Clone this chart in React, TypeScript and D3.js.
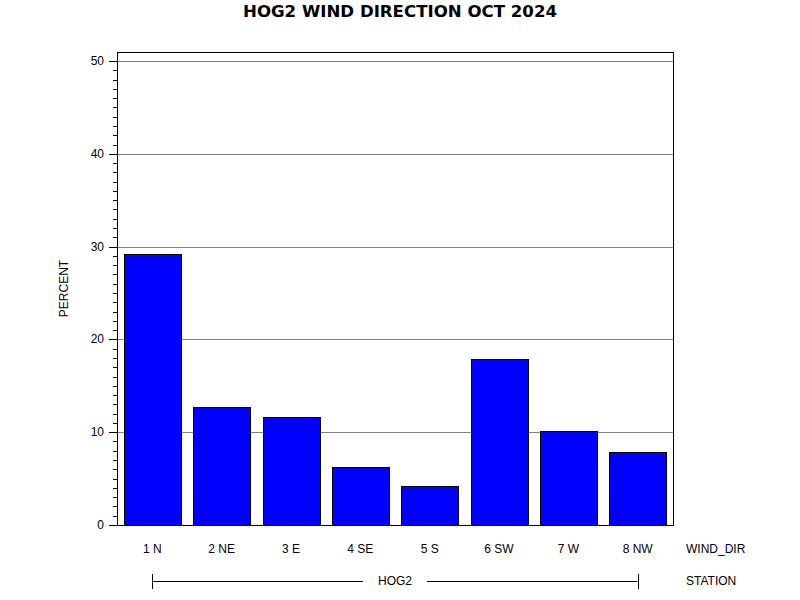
import React, { FC } from 'react';
import * as d3 from 'd3';

const windDirs: string[] = ['1 N', '2 NE', '3 E', '4 SE', '5 S', '6 SW', '7 W', '8 NW'];
const percents: number[] = [29.2, 12.7, 11.6, 6.25, 4.2, 17.9, 10.1, 7.85];
const majorTicks: number[] = [0, 10, 20, 30, 40, 50];
const stationName: string = 'HOG2';

const FONT = '"Liberation Sans", Arial, sans-serif';

/* plot frame in page pixels */
const frame = { left: 117, right: 673, top: 52, bottom: 525 };

const App: FC = () => {
  const width = 800;
  const height = 600;

  const x = d3
    .scaleBand<string>()
    .domain(windDirs)
    .range([frame.left, frame.right])
    .paddingInner(0.18)
    .paddingOuter(0.1);

  const y = d3.scaleLinear().domain([0, 50]).range([frame.bottom, 61]);

  const minorTicks: number[] = d3.range(0, 51, 1).filter((v) => v % 10 !== 0);

  const firstCenter = (x(windDirs[0]) ?? 0) + x.bandwidth() / 2;
  const lastCenter = (x(windDirs[windDirs.length - 1]) ?? 0) + x.bandwidth() / 2;
  const midStation = (firstCenter + lastCenter) / 2;
  const stationY = 581;

  return (
    <svg
      width={width}
      height={height}
      style={{ position: 'absolute', left: 0, top: 0, background: '#fff' }}
      fontFamily={FONT}
    >
      <rect x={0} y={0} width={width} height={height} fill="#fff" />
      <text
        x={400}
        y={17}
        textAnchor="middle"
        fontSize={16}
        fontWeight="bold"
        fontFamily='"DejaVu Sans", sans-serif'
        textLength={314}
        lengthAdjust="spacingAndGlyphs"
      >
        HOG2 WIND DIRECTION OCT 2024
      </text>

      {/* grid lines */}
      {majorTicks
        .filter((t) => t > 0)
        .map((t) => (
          <line
            key={'g' + t}
            x1={frame.left}
            x2={frame.right}
            y1={Math.round(y(t)) + 0.5}
            y2={Math.round(y(t)) + 0.5}
            stroke="#808080"
          />
        ))}

      {/* bars */}
      {percents.map((v, i) => (
        <rect
          key={windDirs[i]}
          x={Math.round(x(windDirs[i]) ?? 0) + 0.5}
          y={Math.round(y(v)) + 0.5}
          width={Math.round(x.bandwidth())}
          height={Math.round(y(0)) - Math.round(y(v))}
          fill="#0000ff"
          stroke="#000"
        />
      ))}

      {/* frame */}
      <rect
        x={frame.left + 0.5}
        y={frame.top + 0.5}
        width={frame.right - frame.left}
        height={frame.bottom - frame.top}
        fill="none"
        stroke="#000"
      />

      {/* y axis ticks */}
      {majorTicks.map((t) => (
        <g key={'t' + t}>
          <line
            x1={109}
            x2={frame.left}
            y1={Math.round(y(t)) + 0.5}
            y2={Math.round(y(t)) + 0.5}
            stroke="#000"
          />
          <text x={104} y={y(t) + 4} textAnchor="end" fontSize={12}>
            {t}
          </text>
        </g>
      ))}
      {minorTicks.map((t) => (
        <line
          key={'m' + t}
          x1={113}
          x2={frame.left}
          y1={Math.round(y(t)) + 0.5}
          y2={Math.round(y(t)) + 0.5}
          stroke="#000"
        />
      ))}
      <text
        transform={`translate(68, ${(frame.top + frame.bottom) / 2}) rotate(-90)`}
        textAnchor="middle"
        fontSize={12}
      >
        PERCENT
      </text>

      {/* category labels */}
      {windDirs.map((d) => (
        <text
          key={'l' + d}
          x={(x(d) ?? 0) + x.bandwidth() / 2}
          y={553}
          textAnchor="middle"
          fontSize={12}
        >
          {d}
        </text>
      ))}
      <text x={686} y={553} fontSize={12}>
        WIND_DIR
      </text>

      {/* station group */}
      <line x1={firstCenter} x2={midStation - 32} y1={stationY + 0.5} y2={stationY + 0.5} stroke="#000" />
      <line x1={midStation + 32} x2={lastCenter} y1={stationY + 0.5} y2={stationY + 0.5} stroke="#000" />
      <line x1={Math.round(firstCenter) + 0.5} x2={Math.round(firstCenter) + 0.5} y1={574} y2={589} stroke="#000" />
      <line x1={Math.round(lastCenter) + 0.5} x2={Math.round(lastCenter) + 0.5} y1={574} y2={589} stroke="#000" />
      <text x={midStation} y={585} textAnchor="middle" fontSize={12}>
        {stationName}
      </text>
      <text x={686} y={585} fontSize={12}>
        STATION
      </text>
    </svg>
  );
};

export default App;
